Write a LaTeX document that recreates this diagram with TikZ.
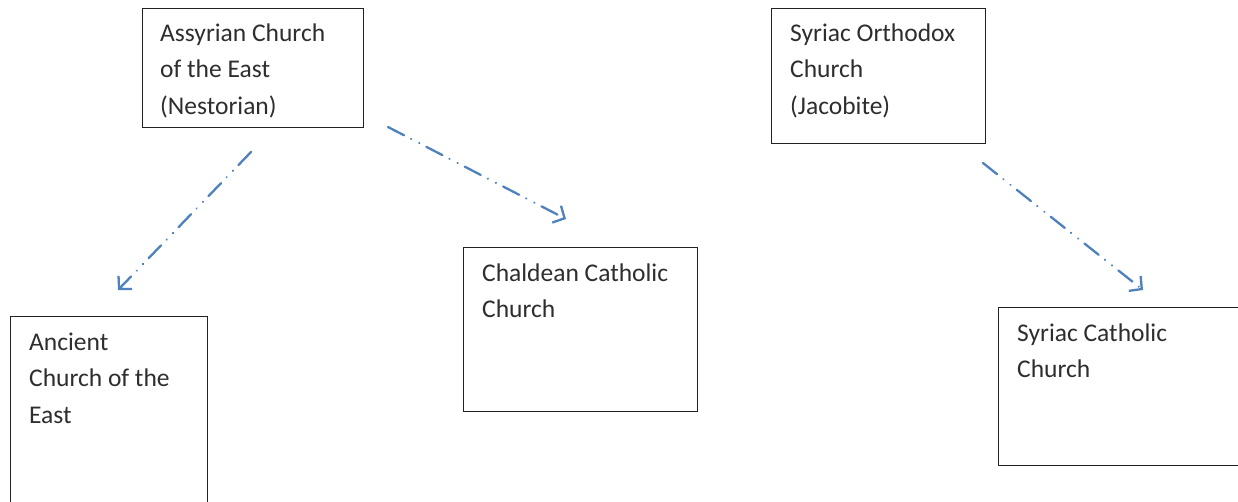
\documentclass[tikz,border=0pt]{standalone}
\usepackage{fontspec}
\setmainfont{Carlito}
\usetikzlibrary{arrows.meta,calc}
\definecolor{arrowblue}{HTML}{4F81BD}
\definecolor{boxline}{HTML}{222222}
\newcommand{\stack}[1]{\vtop{\baselineskip=36.5pt\lineskiplimit=-100pt #1}}
\tikzset{
  churchbox/.style={draw=boxline, line width=1.3pt, fill=white, anchor=north west, inner sep=0pt},
  churchtext/.style={anchor=base west, inner sep=0pt, font=\fontsize{25.5}{36.5}\selectfont, text=black!82},
  descent/.style={draw=arrowblue, line width=2.3pt, line cap=round,
    dash pattern=on 18pt off 8pt on 0.1pt off 9pt on 0.1pt off 8pt,
    -{Straight Barb[length=9pt,width=19pt,line width=2.3pt]}}
}
\begin{document}
\begin{tikzpicture}[x=1pt,y=-1pt]
\useasboundingbox (0,0) rectangle (1238,501);
\clip (0,0) rectangle (1238,501);
% boxes
\node[churchbox, minimum width=221pt, minimum height=119pt] (ace) at (142,8) {};
\node[churchbox, minimum width=214pt, minimum height=135pt] (soc) at (771,8) {};
\node[churchbox, minimum width=197pt, minimum height=200pt] (anc) at (10,316) {};
\node[churchbox, minimum width=234pt, minimum height=164pt] (ccc) at (463,247) {};
\node[churchbox, minimum width=250pt, minimum height=158pt] (scc) at (998,307) {};
% texts
\node[churchtext] (ace-t) at ($(ace.north west)+(18,33)$) {\stack{\hbox{Assyrian Church}\hbox{of the East}\hbox{(Nestorian)}}};
\node[churchtext] (soc-t) at ($(soc.north west)+(19,33)$) {\stack{\hbox{Syriac Orthodox}\hbox{Church}\hbox{(Jacobite)}}};
\node[churchtext] (anc-t) at ($(anc.north west)+(19,34)$) {\stack{\hbox{Ancient}\hbox{Church of the}\hbox{East}}};
\node[churchtext] (ccc-t) at ($(ccc.north west)+(19,34)$) {\stack{\hbox{Chaldean Catholic}\hbox{Church}}};
\node[churchtext] (scc-t) at ($(scc.north west)+(19,34)$) {\stack{\hbox{Syriac Catholic}\hbox{Church}}};
% arrow ends
\coordinate (a1s) at (251,152);
\coordinate (a1e) at (118,290);
\coordinate (a2s) at (388,127);
\coordinate (a2e) at (566,219);
\coordinate (a3s) at (983,163);
\coordinate (a3e) at (1143,290);
\draw[descent] (a1s) -- (a1e);
\draw[descent] (a2s) -- (a2e);
\draw[descent] (a3s) -- (a3e);
\end{tikzpicture}
\end{document}
